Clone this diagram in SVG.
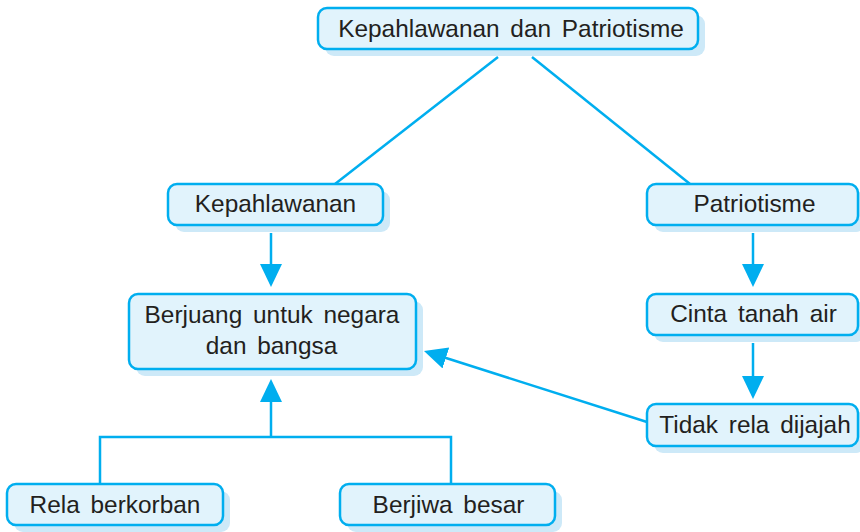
<svg xmlns="http://www.w3.org/2000/svg" width="860" height="532" viewBox="0 0 860 532">
<style>
.sh{fill:#cde9f8;stroke:none}
.bx{fill:#e1f3fc;stroke:#00aeef;stroke-width:2.5}
.t{font-family:"Liberation Sans",Arial,sans-serif;font-size:24.4px;fill:#231f20;text-anchor:middle;word-spacing:4px}
.ln{fill:none;stroke:#00aeef;stroke-width:2.5}
</style>
<defs>
<marker id="ah" markerUnits="userSpaceOnUse" markerWidth="24" markerHeight="24" refX="13" refY="11" orient="auto" viewBox="0 0 24 24">
<path d="M0,0 L23,11 L0,22 Z" fill="#00aeef"/>
</marker>
</defs>
<rect width="860" height="532" fill="#ffffff"/>
<g id="connectors">
<line class="ln" x1="498" y1="57" x2="335" y2="184"/>
<line class="ln" x1="532" y1="57" x2="690" y2="184"/>
<line class="ln" x1="271" y1="233" x2="271" y2="277" marker-end="url(#ah)"/>
<line class="ln" x1="753" y1="233" x2="753" y2="277" marker-end="url(#ah)"/>
<line class="ln" x1="753" y1="343" x2="753" y2="389" marker-end="url(#ah)"/>
<line class="ln" x1="647" y1="422" x2="433.5" y2="354" marker-end="url(#ah)"/>
<polyline class="ln" points="100,484 100,437 451,437 451,484"/>
<line class="ln" x1="271" y1="437" x2="271" y2="389" marker-end="url(#ah)"/>
</g>
<g id="n-top">
<rect class="sh" x="325" y="15" width="380" height="41" rx="9"/>
<rect class="bx" x="318" y="8" width="380" height="41" rx="9"/>
<text class="t" x="511" y="37">Kepahlawanan dan Patriotisme</text>
</g>
<g id="n-kepahlawanan">
<rect class="sh" x="175" y="191" width="215" height="41" rx="9"/>
<rect class="bx" x="168" y="184" width="215" height="41" rx="9"/>
<text class="t" x="275.5" y="212">Kepahlawanan</text>
</g>
<g id="n-patriotisme">
<rect class="sh" x="654" y="191" width="211" height="41" rx="9"/>
<rect class="bx" x="647" y="184" width="211" height="41" rx="9"/>
<text class="t" x="754.5" y="212">Patriotisme</text>
</g>
<g id="n-berjuang">
<rect class="sh" x="136" y="301" width="287" height="75" rx="9"/>
<rect class="bx" x="129" y="294" width="287" height="75" rx="9"/>
<text class="t" x="272" y="323">Berjuang untuk negara</text>
<text class="t" x="271.5" y="354">dan bangsa</text>
</g>
<g id="n-cinta">
<rect class="sh" x="654" y="301" width="211" height="41" rx="9"/>
<rect class="bx" x="647" y="294" width="211" height="41" rx="9"/>
<text class="t" x="753.5" y="322">Cinta tanah air</text>
</g>
<g id="n-tidak">
<rect class="sh" x="654" y="411" width="211" height="42" rx="9"/>
<rect class="bx" x="647" y="404" width="211" height="42" rx="9"/>
<text class="t" x="755" y="433">Tidak rela dijajah</text>
</g>
<g id="n-rela">
<rect class="sh" x="14" y="491" width="216" height="41" rx="9"/>
<rect class="bx" x="7" y="484" width="216" height="41" rx="9"/>
<text class="t" x="115" y="513">Rela berkorban</text>
</g>
<g id="n-berjiwa">
<rect class="sh" x="347" y="491" width="215" height="41" rx="9"/>
<rect class="bx" x="340" y="484" width="215" height="41" rx="9"/>
<text class="t" x="448.5" y="513">Berjiwa besar</text>
</g>
</svg>
